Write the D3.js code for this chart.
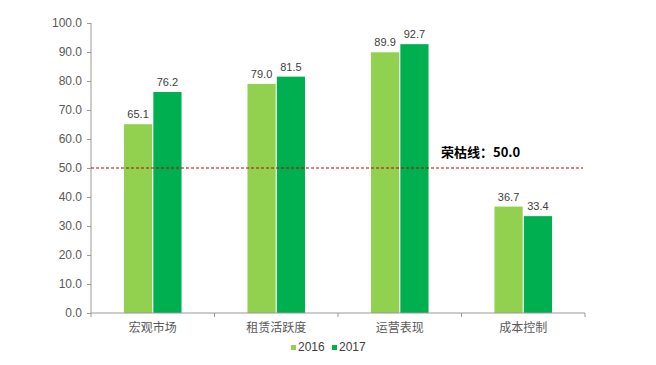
<!DOCTYPE html>
<html>
<head>
<meta charset="utf-8">
<script src="https://cdn.jsdelivr.net/npm/d3@7"></script>
<style>
  body { margin: 0; background: #fff; }
  text { font-family: Arial, "Liberation Sans", "Noto Sans CJK SC", sans-serif; }
</style>
</head>
<body>
<svg width="656" height="365"></svg>
<script>
var categories = ["宏观市场", "租赁活跃度", "运营表现", "成本控制"];
var years = ["2016", "2017"];
var values2016 = [65.1, 79.0, 89.9, 36.7];
var values2017 = [76.2, 81.5, 92.7, 33.4];
var yTicks = [0, 10, 20, 30, 40, 50, 60, 70, 80, 90, 100];
var threshold = 50;
var thresholdLabel = "荣枯线：50.0";

var colors = { "2016": "#92D050", "2017": "#00B050" };

var svg = d3.select("svg");
var padding = { t: 23, r: 71, b: 52, l: 91 };
var chartRight = 656 - padding.r;
var chartBottom = 365 - padding.b;

var x0 = d3.scaleBand().domain(categories).range([padding.l, chartRight]).padding(0);
var bw = x0.bandwidth();
var x1 = d3.scaleBand().domain(years).range([bw * 0.267, bw * 0.733]).paddingInner(0.04);
var y = d3.scaleLinear().domain([0, 100]).range([chartBottom, padding.t]);

var rows = categories.map(function (c, i) {
  return { cat: c, vals: [
    { year: "2016", v: values2016[i] },
    { year: "2017", v: values2017[i] }
  ] };
});

// y axis
var yAxis = svg.append("g")
  .attr("transform", "translate(" + padding.l + ",0)")
  .call(d3.axisLeft(y).tickValues(yTicks).tickSize(4).tickPadding(5).tickFormat(d3.format(".1f")));
yAxis.selectAll("text").attr("fill", "#595959").style("font-size", "12px");
yAxis.selectAll("line, path").attr("stroke", "#999");
yAxis.select(".domain").attr("d", "M0," + chartBottom + "V" + padding.t);

// bars
var groups = svg.selectAll(".grp").data(rows).enter().append("g")
  .attr("transform", function (d) { return "translate(" + x0(d.cat) + ",0)"; });

groups.selectAll("rect").data(function (d) { return d.vals; }).enter().append("rect")
  .attr("x", function (d) { return x1(d.year); })
  .attr("y", function (d) { return y(d.v); })
  .attr("width", x1.bandwidth())
  .attr("height", function (d) { return chartBottom - y(d.v); })
  .attr("fill", function (d) { return colors[d.year]; });

groups.selectAll(".lbl").data(function (d) { return d.vals; }).enter().append("text")
  .attr("x", function (d) { return x1(d.year) + x1.bandwidth() / 2; })
  .attr("y", function (d) { return y(d.v) - 6; })
  .attr("text-anchor", "middle")
  .attr("fill", "#404040")
  .style("font-size", "11px")
  .text(function (d) { return d.v.toFixed(1); });

// x axis
var xAxis = svg.append("g")
  .attr("transform", "translate(0," + chartBottom + ")");
xAxis.append("line")
  .attr("x1", padding.l).attr("x2", chartRight)
  .attr("stroke", "#999");
xAxis.selectAll(".tk").data(categories.concat(["end"])).enter().append("line")
  .attr("x1", function (d, i) { return padding.l + i * bw; })
  .attr("x2", function (d, i) { return padding.l + i * bw; })
  .attr("y1", 0).attr("y2", 4)
  .attr("stroke", "#999");
xAxis.selectAll(".cat").data(categories).enter().append("text")
  .attr("x", function (d) { return x0(d) + bw / 2; })
  .attr("y", 19)
  .attr("text-anchor", "middle")
  .attr("fill", "#595959")
  .style("font-size", "12px")
  .style("font-family", "'Noto Sans CJK SC', sans-serif")
  .text(function (d) { return d; });

// threshold line
svg.append("line")
  .attr("x1", padding.l).attr("x2", chartRight - 2)
  .attr("y1", y(threshold)).attr("y2", y(threshold))
  .attr("stroke", "#C00000")
  .attr("stroke-width", 1)
  .attr("stroke-dasharray", "3,2");
svg.append("text")
  .attr("x", 441).attr("y", y(threshold) - 11)
  .attr("fill", "#000")
  .style("font-size", "13px")
  .style("font-weight", "bold")
  .style("font-family", "'Noto Sans CJK SC', Arial, sans-serif")
  .text(thresholdLabel);

// legend
var legend = svg.append("g").attr("transform", "translate(291,351)");
var li = legend.selectAll("g").data(years).enter().append("g")
  .attr("transform", function (d, i) { return "translate(" + (i * 41) + ",0)"; });
li.append("rect")
  .attr("x", 0).attr("y", -6).attr("width", 5).attr("height", 5)
  .attr("fill", function (d) { return colors[d]; });
li.append("text")
  .attr("x", 7).attr("y", 0)
  .attr("fill", "#404040")
  .style("font-size", "12px")
  .text(function (d) { return d; });
</script>
</body>
</html>
